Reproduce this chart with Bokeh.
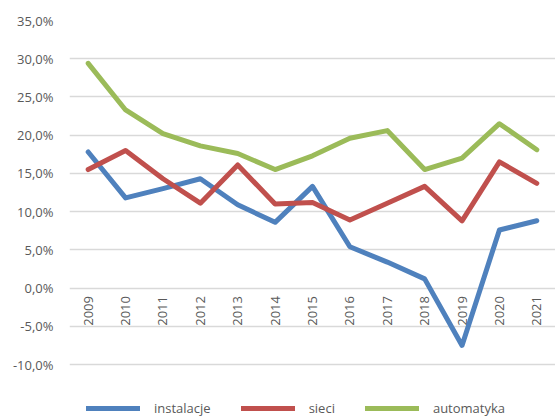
import math
from bokeh.plotting import figure
from bokeh.models import FixedTicker, Legend, LegendItem, ColumnDataSource, Range1d
from bokeh.core.properties import value
from bokeh.embed import file_html
from bokeh.resources import INLINE

years = ["2009", "2010", "2011", "2012", "2013", "2014", "2015", "2016", "2017", "2018", "2019", "2020", "2021"]
instalacje = [17.8, 11.8, 13.0, 14.3, 10.9, 8.6, 13.3, 5.4, 3.4, 1.2, -7.5, 7.6, 8.8]
sieci = [15.5, 18.0, 14.3, 11.1, 16.1, 11.0, 11.2, 8.9, 11.1, 13.3, 8.8, 16.5, 13.7]
automatyka = [29.4, 23.3, 20.2, 18.6, 17.6, 15.5, 17.3, 19.6, 20.6, 15.5, 17.0, 21.5, 18.1]
y_ticks = [-10, -5, 0, 5, 10, 15, 20, 25, 30, 35]
y_tick_labels = ["-10,0%", "-5,0%", "0,0%", "5,0%", "10,0%", "15,0%", "20,0%", "25,0%", "30,0%", "35,0%"]
series_names = ["instalacje", "sieci", "automatyka"]
colors = ["#4f81bd", "#c0504d", "#9bbb59"]

FONT = "Open Sans"
xs = list(range(len(years)))

# frame reaches the bottom edge so the legend (drawn inside it) is not clipped;
# only the fixed ticks -10..35 get gridlines and labels
p = figure(width=555, height=417, x_range=Range1d(-0.5, 12.5),
           y_range=Range1d(-16.93, 35), output_backend="svg", toolbar_location=None,
           min_border_left=69, min_border_right=0, min_border_top=20, min_border_bottom=0)
p.outline_line_color = None
p.background_fill_color = "white"
p.border_fill_color = "white"

p.xaxis.visible = False
p.xgrid.visible = False
p.ygrid.ticker = FixedTicker(ticks=y_ticks)
p.ygrid.grid_line_color = "#d9d9d9"
p.ygrid.grid_line_width = 1.5

p.yaxis.ticker = FixedTicker(ticks=y_ticks)
p.yaxis.major_label_overrides = {t: l for t, l in zip(y_ticks, y_tick_labels)}
p.yaxis.axis_line_color = None
p.yaxis.major_tick_line_color = None
p.yaxis.minor_tick_line_color = None
p.yaxis.major_label_text_font = FONT
p.yaxis.major_label_text_font_size = "13px"
p.yaxis.major_label_text_color = "#595959"
p.yaxis.major_label_standoff = 10

src = ColumnDataSource(dict(x=xs, year=years, inst=instalacje, sie=sieci, aut=automatyka, zero=[0] * len(years)))

# year labels at the zero line
p.text(x="x", y="zero", text="year", source=src, angle=math.pi / 2, text_align="right",
       text_baseline="middle", y_offset=8, text_font=value(FONT), text_font_size="13px",
       text_color="#595959")

renderers = []
for key, c in zip(["inst", "sie", "aut"], colors):
    r = p.line(x="x", y=key, source=src, line_color=c, line_width=5, line_join="round", line_cap="round")
    renderers.append(r)

legend = Legend(items=[LegendItem(label=n, renderers=[r]) for n, r in zip(series_names, renderers)],
                orientation="horizontal", location=(17, 0), border_line_color=None,
                label_text_font=FONT, label_text_font_size="13px", label_text_color="#595959",
                glyph_width=54, glyph_height=16, label_standoff=14, spacing=30, padding=0,
                margin=0, background_fill_alpha=0)
p.add_layout(legend, "center")

open("out.html", "w").write(file_html(p, INLINE))
